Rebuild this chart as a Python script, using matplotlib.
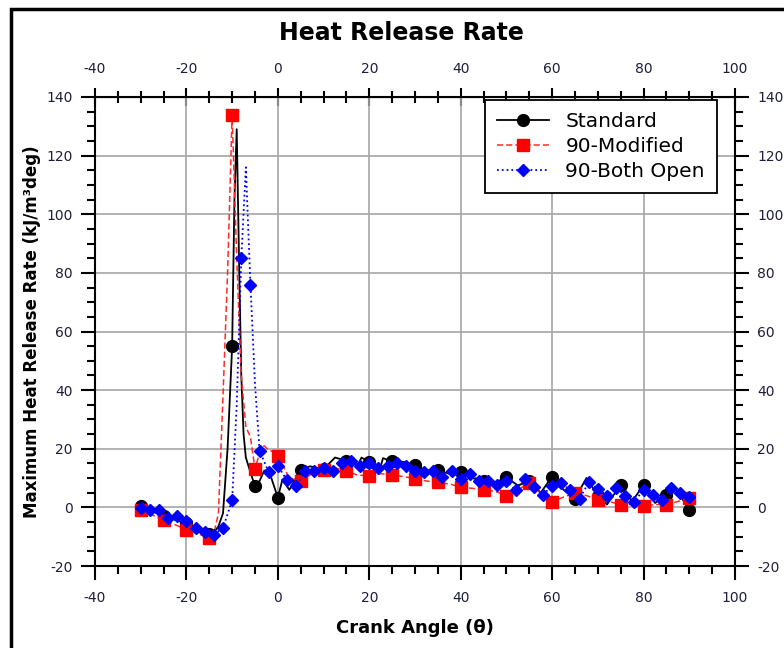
import matplotlib
matplotlib.use("Agg")

import matplotlib.pyplot as plt
from matplotlib.patches import Rectangle
from matplotlib.ticker import MultipleLocator, FixedLocator


# ---------------------------------------------
# Heat release rate - crank angle data
# ---------------------------------------------

# Standard (markers every 5 deg)
std_x = [-30, -25, -20, -15, -14, -13, -12, -11, -10, -9.5, -9, -8.5, -8, -7.5, -7, -6,
         -5, -4, -3, -2, -1, 0, 1, 2.5, 5, 7, 10, 12.5, 15, 17.5, 18.3, 20, 22.5, 23,
         25, 27.5, 30, 32.5, 35, 37.5, 40, 42.5, 45, 47.5, 50, 52.5, 55, 57.5, 60, 62.5,
         65, 67.5, 70, 72, 75, 77.5, 80, 82.5, 85, 86.5, 88, 90]
std_y = [0.5, -3.0, -5.5, -9.0, -8.5, -6.5, -2, 20, 55, 105, 129, 85, 45, 25, 17, 12,
         7.2, 9, 12.5, 12.8, 8, 3.3, 9.5, 6, 12.8, 14, 13, 17, 15.9, 14.5, 17, 15.5, 14, 16.8,
         15.7, 15.5, 14.5, 12.5, 12.6, 11.5, 12.1, 10, 9, 8.5, 10.2, 7.5, 8.9, 5, 10.5, 6,
         3, 10, 4, 1, 7.7, 2, 7.7, 1.5, 4.3, 7.7, 4, -0.8]

# 90-Modified (markers every 5 deg)
mod_x = [-30, -25, -20, -15, -14, -13, -12, -11, -10, -9, -8, -7, -6, -5, -4, -3, -2, -1,
         0, 2.5, 5, 7.5, 10, 12.5, 15, 17.5, 20, 22.5, 25, 27.5, 30, 32.5, 35, 37.5, 40,
         42.5, 45, 47.5, 50, 52.5, 55, 57.5, 60, 62.5, 65, 67.5, 70, 72.5, 75, 77.5, 80,
         82.5, 85, 87.5, 90]
mod_y = [-1.0, -4.2, -7.6, -10.4, -9, -2, 38, 80, 134, 85, 45, 27.5, 24, 13.1, 18.5, 21,
         19.5, 19, 17.6, 10, 8.9, 11.5, 12.8, 13.5, 12.3, 11, 10.8, 11.5, 11.1, 10.5, 9.8,
         9, 8.5, 8, 6.9, 6.5, 6.0, 5.5, 4.0, 6, 8.3, 5, 2.0, 3.5, 4.9, 4, 2.6, 2, 0.9, 1,
         0.3, 1, 0.9, 2, 3.2]

# 90-Both Open (markers every 2 deg)
open_x = [-30, -28, -26, -24, -22, -20, -18, -16, -14, -12, -10, -9, -8, -7, -6, -5, -4,
          -2, 0, 2, 4, 6, 8, 10, 12, 14, 16, 18, 20, 22, 24, 26, 28, 30, 32, 34, 36, 38,
          40, 42, 44, 46, 48, 50, 52, 54, 56, 58, 60, 62, 64, 66, 68, 70, 72, 74, 76, 78,
          80, 82, 84, 86, 88, 90]
open_y = [-0.2, -0.8, -1.0, -3.6, -2.8, -4.8, -7.0, -8.5, -9.3, -7.0, 2.4, 35, 85, 116,
          76, 42, 19.4, 11.9, 14.2, 9.2, 7.2, 12.5, 12.3, 13.4, 12.3, 15.3, 15.7, 14.0,
          15.1, 13.4, 14.0, 15.1, 14.0, 12.3, 11.9, 12.3, 10.4, 12.5, 9.7, 11.5, 9.1, 9.1,
          7.7, 9.1, 5.8, 9.7, 6.9, 4.3, 7.4, 8.3, 5.8, 3.0, 8.5, 6.3, 4.0, 6.6, 4.0, 2.0,
          6.0, 4.3, 2.4, 6.6, 4.9, 3.5]

x_ticks = [-40, -20, 0, 20, 40, 60, 80, 100]
x_minor = list(range(-40, 101, 5))

LABEL_COLOR = "#1e1e3c"

plt.rcParams["axes.unicode_minus"] = False


def marker_index(xs, step):
    return [i for i, v in enumerate(xs) if v % step == 0]


def draw_chart():
    fig = plt.figure(figsize=(7.84, 6.48), dpi=100)
    ax = fig.add_axes([95 / 784, 1 - 566 / 648, 640 / 784, 469 / 648])

    ax.plot(std_x, std_y, color="black", lw=1.3, marker="o", ms=8.5,
            markevery=marker_index(std_x, 5), label="Standard", zorder=3)
    ax.plot(mod_x, mod_y, color="#ff2a2a", lw=1.1, ls=(0, (4, 2)), marker="s", ms=8.5,
            mfc="red", mec="red", markevery=marker_index(mod_x, 5),
            label="90-Modified", zorder=4)
    ax.plot(open_x, open_y, color="blue", lw=1.3, ls=":", marker="D", ms=6.5,
            mfc="blue", mec="blue", markevery=marker_index(open_x, 2),
            label="90-Both Open", zorder=5)

    ax.set_xlim(-40, 100)
    ax.set_ylim(-20, 140)
    ax.xaxis.set_major_locator(FixedLocator(x_ticks))
    ax.xaxis.set_minor_locator(FixedLocator(x_minor))
    ax.yaxis.set_major_locator(MultipleLocator(20))
    ax.yaxis.set_minor_locator(MultipleLocator(5))
    ax.grid(True, which="major", color="#a6a6a6", lw=1.2)
    ax.set_axisbelow(True)

    for sp in ax.spines.values():
        sp.set_linewidth(1.5)

    ax.tick_params(which="both", direction="out", right=True, labelright=True,
                   labelcolor=LABEL_COLOR, labelsize=10, width=1.5)
    ax.tick_params(which="major", length=10)
    ax.tick_params(which="minor", length=6)
    ax.tick_params(axis="x", pad=8)
    ax.tick_params(axis="y", pad=6)

    top = ax.secondary_xaxis("top")
    top.xaxis.set_major_locator(FixedLocator(x_ticks))
    top.xaxis.set_minor_locator(FixedLocator(x_minor))
    top.tick_params(which="both", direction="inout", labelcolor=LABEL_COLOR,
                    labelsize=10, width=1.5, pad=8.5)
    top.tick_params(which="major", length=13)
    top.tick_params(which="minor", length=8)

    ax.set_xlabel("Crank Angle (θ)", fontsize=13, fontweight="bold", labelpad=10)
    ax.set_ylabel("Maximum Heat Release Rate (kJ/m³deg)", fontsize=12,
                  fontweight="bold", labelpad=4)

    fig.text(401 / 784, 1 - 33 / 648, "Heat Release Rate", fontsize=17,
             fontweight="bold", ha="center", va="center")

    leg = ax.legend(loc="upper right", bbox_to_anchor=(0.972, 0.994),
                    borderaxespad=0, fontsize=14.5, fancybox=False, framealpha=1,
                    edgecolor="black", labelspacing=0.3, handlelength=2.6,
                    borderpad=0.6)
    leg.get_frame().set_linewidth(1.3)

    # outer frame of the picture (partly cut off on the right/bottom)
    fig.patches.append(Rectangle((11 / 784, -0.1), 1.1, 1 - 9 / 648 + 0.1,
                                 transform=fig.transFigure, fill=False,
                                 edgecolor="black", lw=2.5))

    fig.savefig("out.png", dpi=100)
    plt.close(fig)


def main():
    draw_chart()


if __name__ == "__main__":
    main()
